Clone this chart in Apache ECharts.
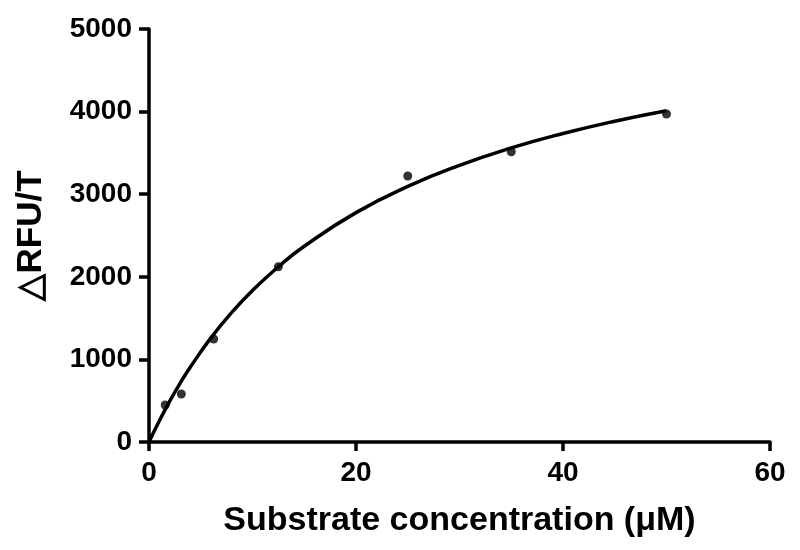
<!DOCTYPE html>
<html>
<head>
<meta charset="utf-8">
<script src="https://cdn.jsdelivr.net/npm/echarts@6/dist/echarts.min.js"></script>
<style>
html,body{margin:0;padding:0;background:#fff;}
#chart{width:800px;height:550px;}
</style>
</head>
<body>
<div id="chart"></div>
<script>
// Measured data points
const substrateConc = [1.5625, 3.125, 6.25, 12.5, 25, 35, 50];
const deltaRFU = [448, 581, 1247, 2122, 3220, 3514, 3971];

// Fitted curve
const curveX = [0, 1, 2, 3, 4, 6, 8, 10, 12.5, 15, 20, 25, 30, 35, 40, 45, 50];
const curveY = [0, 258, 494, 710, 908, 1263, 1569, 1834, 2122, 2370, 2777, 3094, 3350, 3560, 3735, 3884, 4011];

const xTicks = [0, 20, 40, 60];
const yTicks = [0, 1000, 2000, 3000, 4000, 5000];

const FONT = 'Liberation Sans, Arial, sans-serif';

const chart = echarts.init(document.getElementById('chart'));
chart.setOption({
  animation: false,
  backgroundColor: '#fff',
  grid: {left: 149, right: 30, top: 29, bottom: 108, containLabel: false},
  xAxis: {
    type: 'value',
    min: xTicks[0], max: xTicks[xTicks.length - 1], interval: 20,
    name: 'Substrate concentration (\u03bcM)',
    nameLocation: 'middle',
    nameGap: 62,
    nameTextStyle: {fontFamily: FONT, fontWeight: 'bold', fontSize: 34, color: '#000'},
    axisLine: {show: true, onZero: false, lineStyle: {color: '#000', width: 3.5}},
    axisTick: {show: true, length: 9, lineStyle: {color: '#000', width: 3.5}},
    axisLabel: {margin: 17, fontFamily: FONT, fontWeight: 'bold', fontSize: 28, color: '#000',
      formatter: v => String(v)},
    splitLine: {show: false}
  },
  yAxis: {
    type: 'value',
    min: yTicks[0], max: yTicks[yTicks.length - 1], interval: 1000,
    name: '\u25b3RFU/T',
    nameLocation: 'middle',
    nameGap: 100,
    nameRotate: 90,
    nameTextStyle: {fontFamily: FONT, fontWeight: 'bold', fontSize: 35, color: '#000'},
    axisLine: {show: true, onZero: false, lineStyle: {color: '#000', width: 3.5}},
    axisTick: {show: true, length: 10, lineStyle: {color: '#000', width: 3.5}},
    axisLabel: {margin: 17, fontFamily: FONT, fontWeight: 'bold', fontSize: 28, color: '#000',
      formatter: v => String(v)},
    splitLine: {show: false}
  },
  series: [
    {
      type: 'line',
      data: curveX.map((x, i) => [x, curveY[i]]),
      smooth: true,
      showSymbol: false,
      lineStyle: {color: '#000', width: 3.5},
      z: 2
    },
    {
      type: 'scatter',
      data: substrateConc.map((x, i) => [x, deltaRFU[i]]),
      symbol: 'circle',
      symbolSize: 9,
      itemStyle: {color: '#000'},
      z: 3
    }
  ]
});
</script>
</body>
</html>
